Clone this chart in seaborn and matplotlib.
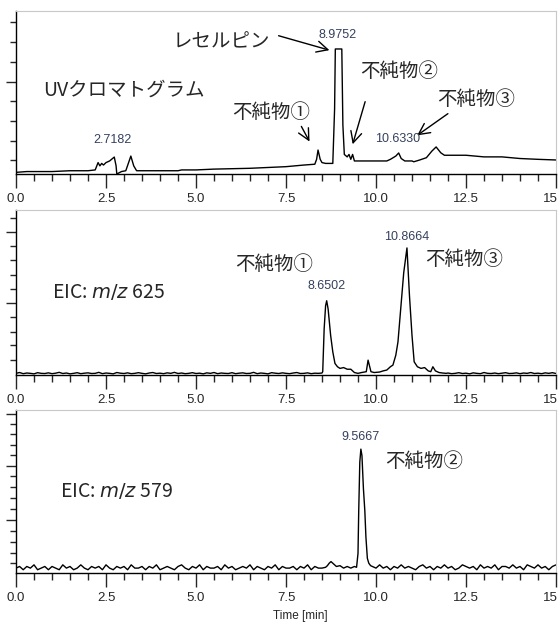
import numpy as np
import pandas as pd
import seaborn as sns
import matplotlib.pyplot as plt

# ---- UV chromatogram (panel 1) ----
uv_time = [0.0, 0.3, 1.0, 1.5, 2.0, 2.2, 2.28, 2.33, 2.38, 2.43, 2.5, 2.6, 2.73, 2.78, 2.8, 2.93,
           3.05, 3.19, 3.27, 3.35, 4.5, 4.6, 5.0, 5.5, 6.5, 7.5, 8.0, 8.3, 8.35, 8.39, 8.45, 8.5,
           8.6, 8.8, 8.85, 8.87, 9.05, 9.08, 9.12, 9.2, 9.25, 9.3, 9.35, 9.4, 9.5, 10.3, 10.4,
           10.55, 10.63, 10.7, 10.8, 11.0, 11.05, 11.2, 11.4, 11.55, 11.67, 11.8, 11.9, 12.5,
           13.0, 13.5, 14.0, 14.5, 15.0]
uv_signal = [1.0, 1.5, 1.5, 2.0, 2.0, 2.5, 7.0, 5.0, 6.5, 5.5, 7.0, 8.0, 10.4, 5.0, 0.0, 1.5,
             2.0, 11.0, 5.0, 2.0, 2.0, 2.5, 2.5, 3.0, 3.5, 4.5, 5.5, 6.0, 9.0, 14.7, 9.0, 7.0,
             6.5, 6.5, 40.0, 76.7, 76.7, 30.0, 12.0, 10.5, 12.0, 9.0, 12.0, 8.0, 8.0, 8.0, 9.0,
             11.0, 12.9, 9.5, 8.0, 8.0, 7.5, 8.5, 10.0, 14.0, 16.6, 13.0, 11.5, 11.5,
             10.5, 10.5, 9.5, 9.0, 8.6]

# ---- EIC m/z 625 (panel 2) ----
eic625_base1 = [1.0, 1.5, 0.8, 1.2, 1.0, 0.7, 1.4, 1.0, 0.9, 1.3, 0.8, 1.1, 1.6, 0.9, 1.2, 0.7, 1.0, 1.4,
                0.8, 1.1, 1.3, 0.9, 1.0, 1.6, 0.8, 1.2, 1.0, 0.7, 1.5, 1.1, 0.9, 1.3, 0.8, 1.0, 1.4,
                1.0, 0.7, 1.2, 1.5, 0.9, 1.1, 0.8, 1.3, 1.0, 1.6, 0.9, 1.2, 0.8, 1.0, 1.4, 0.9, 1.1,
                0.7, 1.3, 1.0, 1.5, 0.8, 1.2, 1.0, 0.9, 1.4, 0.8, 1.1, 1.3, 0.9, 1.0, 1.6, 0.8, 1.2,
                1.0, 0.7, 1.4, 1.1, 0.9, 1.3, 1.0, 0.8, 1.2, 1.5, 0.9, 1.0, 1.3, 0.8, 1.1, 1.0]
eic625_peak_time = [8.5, 8.52, 8.56, 8.6, 8.63, 8.67, 8.74, 8.8, 8.86, 8.93, 9.0, 9.1, 9.2, 9.3, 9.4,
                    9.5, 9.6, 9.73, 9.78, 9.86, 9.95, 10.1, 10.2, 10.3, 10.4, 10.47, 10.55, 10.61,
                    10.7, 10.77, 10.86, 10.93, 11.0, 11.06, 11.15, 11.25, 11.35, 11.45, 11.52,
                    11.58, 11.65, 11.75, 11.85, 11.95]
eic625_peak = [1.2, 2.0, 28.0, 42.0, 45.0, 40.0, 24.0, 14.0, 7.0, 5.0, 4.0, 4.5, 3.5, 3.5, 1.5,
               1.0, 1.5, 2.0, 9.0, 2.0, 1.5, 1.8, 2.5, 3.0, 5.0, 6.0, 12.0, 20.0,
               44.0, 62.0, 77.0, 48.0, 24.0, 8.0, 5.0, 4.0, 4.5, 2.5, 2.0,
               5.0, 2.5, 1.5, 1.2, 1.0]
eic625_base2 = [1.2, 0.8, 1.0, 1.4, 0.9, 1.1, 0.7, 1.3, 1.0, 0.8, 1.5, 1.0, 0.9, 1.2, 0.8, 1.1,
                1.4, 0.9, 1.0, 1.3, 0.8, 1.2, 1.0, 1.5, 0.9, 1.1, 0.8, 1.3, 1.0, 1.4, 0.9]

# ---- EIC m/z 579 (panel 3) ----
eic579_base1 = [3, 4, 2, 4, 3, 5, 2, 3, 4, 2, 4, 3, 2, 5, 3, 4, 2, 3, 5, 3,
                2, 4, 3, 4, 2, 5, 3, 2, 4, 3, 4, 2, 5, 3, 3, 4, 2, 4, 3, 5,
                2, 3, 4, 3, 2, 4, 5, 3, 2, 4, 3, 5, 2, 4, 3, 3, 4, 2, 5, 3,
                4, 2, 3, 4, 3, 5, 2, 4, 3, 2, 4, 3, 5, 2, 4, 3, 3, 4, 2, 4,
                3, 5, 2, 4, 3, 3]
eic579_peak_time = [8.6, 8.65, 8.7, 8.75, 8.8, 8.85, 8.9, 9.0, 9.1, 9.2, 9.3, 9.4, 9.46, 9.5,
                    9.52, 9.55, 9.58, 9.61, 9.65, 9.69, 9.72, 9.76, 9.8, 9.85]
eic579_peak = [3.5, 4.5, 6.0, 7.0, 6.0, 5.0, 4.0, 4.5, 3.0, 4.0, 3.0, 4.0, 3.5, 12.0,
               38.0, 68.0, 76.0, 72.0, 52.0, 38.0, 22.0, 9.0, 6.0, 4.5]
eic579_base2 = [4, 3, 5, 3, 4, 2, 4, 3, 5, 3, 4, 3, 2, 4, 5, 3, 4, 2, 4, 3,
                5, 3, 4, 2, 3, 5, 4, 3, 4, 2, 5, 3, 4, 3, 5, 2, 4, 4, 3, 5,
                3, 4, 2, 5, 4, 3, 5, 3, 4, 2, 4, 5]

xtick_major = [0.0, 2.5, 5.0, 7.5, 10.0, 12.5, 15.0]
xtick_labels = ['0.0', '2.5', '5.0', '7.5', '10.0', '12.5', '15.0']
xtick_minor = [0.5, 1.0, 1.5, 2.0, 3.0, 3.5, 4.0, 4.5, 5.5, 6.0, 6.5, 7.0, 8.0, 8.5, 9.0, 9.5,
               10.5, 11.0, 11.5, 12.0, 13.0, 13.5, 14.0, 14.5]

sns.set_style('ticks')
plt.rcParams['font.family'] = ['Noto Sans CJK JP', 'DejaVu Sans']
narrow = ['Liberation Sans', 'DejaVu Sans']
num_color = '#34405e'

t625 = list(np.round(np.arange(0, 8.45, 0.1), 2)) + eic625_peak_time + list(np.round(np.arange(12.0, 15.01, 0.1), 2))
v625 = eic625_base1 + eic625_peak + eic625_base2
t579 = list(np.round(np.arange(0, 8.55, 0.1), 2)) + eic579_peak_time + list(np.round(np.arange(9.9, 15.01, 0.1), 2))
v579 = eic579_base1 + eic579_peak + eic579_base2

panels = [
    pd.DataFrame({'time': uv_time, 'intensity': uv_signal}),
    pd.DataFrame({'time': t625, 'intensity': v625}),
    pd.DataFrame({'time': t579, 'intensity': v579}),
]

# y tick positions (in panel units) for the unlabelled left axis
ymajor = [[56.4], [86.8, 43.8], [97.5, 65.6, 32.5]]
yminor = [[8.6, 20.2, 32.5, 44.8, 68.7, 81.0, 93.3],
          [95.0, 78.2, 69.7, 60.6, 51.9, 35.3, 26.2, 18.2, 9.1],
          [91.4, 85.1, 78.5, 72.4, 59.5, 52.6, 45.8, 39.1, 26.0, 19.2, 12.5, 6.0]]

fig = plt.figure(figsize=(5.58, 6.26), dpi=100)
boxes = [[16 / 558, 1 - 174 / 626, 540 / 558, 163 / 626],
         [16 / 558, 1 - 375 / 626, 540 / 558, 165 / 626],
         [16 / 558, 1 - 573 / 626, 540 / 558, 163 / 626]]
axes = []
for i, df in enumerate(panels):
    ax = fig.add_axes(boxes[i])
    sns.lineplot(x='time', y='intensity', data=df, ax=ax, color='black', lw=1.0, estimator=None)
    ax.set_xlim(0, 15)
    ax.set_ylim(0, 100)
    ax.set_xlabel('')
    ax.set_ylabel('')
    ax.set_xticks(xtick_major)
    ax.set_xticklabels(xtick_labels, fontfamily=narrow, fontsize=9.5)
    ax.set_xticks(xtick_minor, minor=True)
    ax.set_yticks(ymajor[i])
    ax.set_yticks(yminor[i], minor=True)
    ax.set_yticklabels([])
    ax.tick_params(axis='x', which='major', length=10, width=1, pad=4)
    ax.tick_params(axis='x', which='minor', length=5, width=1)
    ax.tick_params(axis='y', which='major', length=7, width=1)
    ax.tick_params(axis='y', which='minor', length=4, width=1)
    for s in ['left', 'bottom']:
        ax.spines[s].set_color('black')
        ax.spines[s].set_linewidth(1.0)
    for s in ['top', 'right']:
        ax.spines[s].set_visible(True)
        ax.spines[s].set_color('#c8c8c8')
        ax.spines[s].set_linewidth(0.8)
    axes.append(ax)

arrow = dict(arrowstyle='->,head_length=0.8,head_width=0.4', color='black', lw=1.0)

# panel 1 annotations
ax = axes[0]
ax.text(0.75, 51.2, 'UVクロマトグラム', fontsize=14, va='center', ha='left')
ax.text(4.36, 81.0, 'レセルピン', fontsize=14, va='center', ha='left')
ax.annotate('', xy=(8.78, 75.5), xytext=(7.22, 85.3), arrowprops=arrow)
ax.text(6.0, 37.7, '不純物①', fontsize=14, va='center', ha='left')
ax.annotate('', xy=(8.19, 18.4), xytext=(7.89, 30.7), arrowprops=arrow)
ax.text(9.56, 62.6, '不純物②', fontsize=14, va='center', ha='left')
ax.annotate('', xy=(9.33, 16.6), xytext=(9.72, 46.0), arrowprops=arrow)
ax.text(11.69, 45.4, '不純物③', fontsize=14, va='center', ha='left')
ax.annotate('', xy=(11.08, 22.7), xytext=(12.06, 38.0), arrowprops=arrow)
ax.text(8.92, 85.3, '8.9752', fontsize=9, fontfamily=narrow, color=num_color, ha='center', va='center')
ax.text(10.61, 21.5, '10.6330', fontsize=9, fontfamily=narrow, color=num_color, ha='center', va='center')
ax.text(2.69, 20.9, '2.7182', fontsize=9, fontfamily=narrow, color=num_color, ha='center', va='center')

# panel 2 annotations
ax = axes[1]
ax.text(1.0, 50.0, 'EIC: $m/z$ 625', fontsize=14, va='center', ha='left')
ax.text(6.1, 67.0, '不純物①', fontsize=14, va='center', ha='left')
ax.text(11.37, 70.0, '不純物③', fontsize=14, va='center', ha='left')
ax.text(8.64, 54.0, '8.6502', fontsize=9, fontfamily=narrow, color=num_color, ha='center', va='center')
ax.text(10.86, 83.5, '10.8664', fontsize=9, fontfamily=narrow, color=num_color, ha='center', va='center')

# panel 3 annotations
ax = axes[2]
ax.text(1.22, 49.7, 'EIC: $m/z$ 579', fontsize=14, va='center', ha='left')
ax.text(10.25, 68.7, '不純物②', fontsize=14, va='center', ha='left')
ax.text(9.58, 83.5, '9.5667', fontsize=9, fontfamily=narrow, color=num_color, ha='center', va='center')

fig.text(300 / 558, 1 - 616 / 626, 'Time [min]', fontsize=8.5, fontfamily=narrow, ha='center', va='center')

fig.savefig('out.png', dpi=100)
